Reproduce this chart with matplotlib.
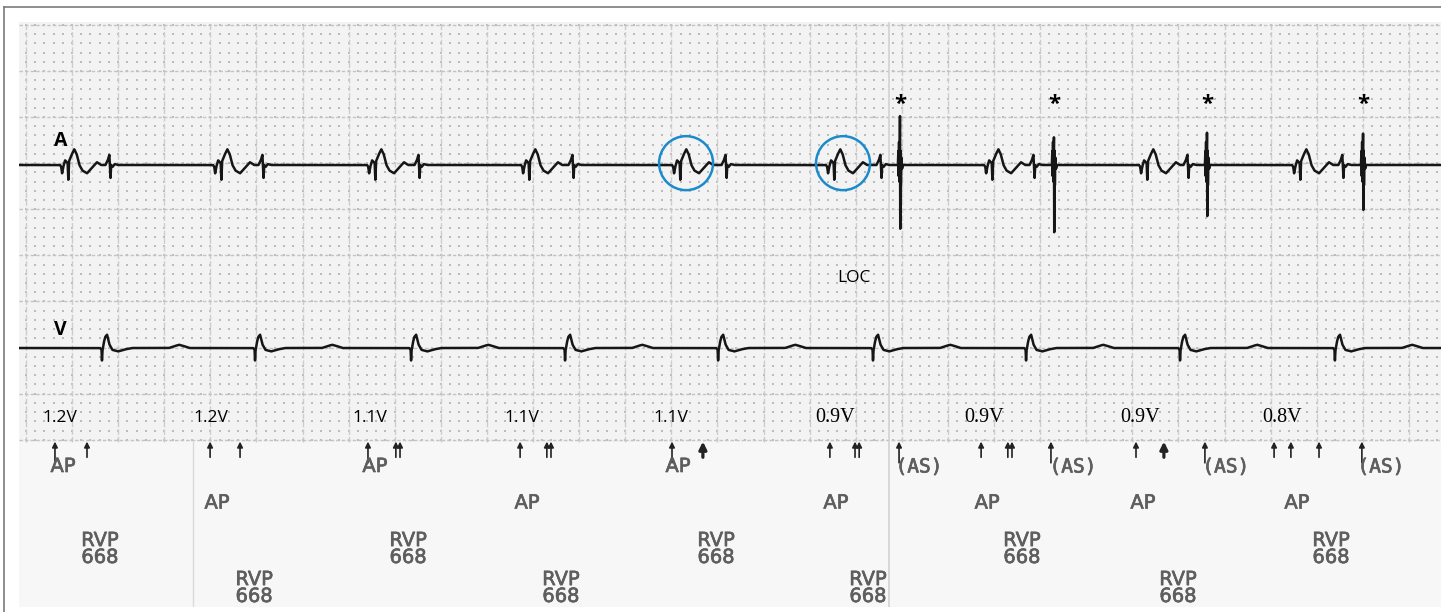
import numpy as np
import matplotlib
matplotlib.use("Agg")
import matplotlib.pyplot as plt
import matplotlib.patheffects as pe
from matplotlib.patches import Ellipse, Rectangle
from matplotlib.lines import Line2D

# =====================================================
# DATOS  (tiempo en ms, amplitud en mV)
# =====================================================

# inicio de cada complejo auricular estimulado (AP)
A_PACE_T = [178, 842, 1510, 2178, 2833, 3501, 4187, 4859, 5523]
# espiga del QRS ventricular
V_QRS_T = [360, 1024, 1701, 2369, 3033, 3705, 4369, 5037, 5709]
# espigas auriculares detectadas (AS), marcadas con *
AS_T = [3822, 4490, 5154, 5831]
AS_TOP = [0.53, 0.30, 0.35, 0.34]
AS_BOT = [-0.74, -0.77, -0.59, -0.52]

# forma del complejo auricular estimulado (relativo al inicio)
AP_TX = [0, 5, 9, 14, 22, 33, 36, 39, 50, 62, 72, 84, 97, 117, 139, 160, 178, 195]
AP_TY = [0, -0.02, -0.09, -0.02, 0.05, 0.02, -0.16, 0.04, 0.11, 0.17, 0.12, 0.0,
         -0.06, -0.09, -0.03, 0.03, 0.0, 0]
# campo lejano ventricular en el canal A (relativo al QRS)
FF_TX = [15, 25, 32, 37, 40, 46, 55, 70]
FF_TY = [0, 0.05, 0.11, -0.14, 0.0, -0.02, 0.01, 0]
# QRS + onda T en el canal V (relativo a la espiga)
QRS_TX = [-8, -2, 0, 2, 8, 14, 22, 32, 45, 70, 100, 130, 290, 320, 335, 350, 380]
QRS_TY = [0, -0.02, -0.135, -0.03, 0.06, 0.12, 0.144, 0.04, -0.02, -0.037, -0.015, 0,
          0, 0.025, 0.035, 0.025, 0]
# espiga AS (TOP / BOT se sustituyen por latido)
AS_TX = [-9, -7, -5.5, -4, -2.5, -1, 0, 1.3, 2.6, 4, 6, 9, 13]
AS_TY = [0, 0.15, -0.12, 0.25, -0.18, 0.1, None, None, 0.2, -0.22, 0.08, -0.04, 0]

# canal de marcas
MARK_T = [156, 295, 829, 959, 1514, 1644, 2174, 2299, 2833, 2967, 3518, 3636, 3818,
          4174, 4299, 4477, 4846, 4967, 5145, 5445, 5518, 5640, 5826]
MARK_KIND = ["ap", "s", "s", "s", "ap", "d", "s", "d", "ap", "b", "s", "d", "as",
             "s", "d", "as", "s", "b", "as", "s", "s", "s", "as"]

VOLT_T = [100, 755, 1445, 2108, 2751, 3453, 4100, 4777, 5393]
VOLT_LABELS = ["1.2V", "1.2V", "1.1V", "1.1V", "1.1V", "0.9V", "0.9V", "0.9V", "0.8V"]

AP_HIGH_T = [191, 1544, 2859]
AP_LOW_T = [859, 2204, 3544, 4200, 4876, 5544]
AS_LABEL_T = [3905, 4573, 5236, 5909]
RVP_HIGH_T = [351, 1688, 3024, 4351, 5692]
RVP_LOW_T = [1020, 2351, 3683, 5028]

CIRCLE_T = [2894, 3575]

# =====================================================
# CONFIG GENERAL
# =====================================================

W, H = 1441, 612
PX_PER_MS = 0.2305
PX_PER_MV = 92.2
T_MAX = (W - 19) / PX_PER_MS
Y_TOP = (165 - 22) / PX_PER_MV
Y_BOT = (165 - 607) / PX_PER_MV
GRID_BOT = -3.0
V_OFFSET = -1.985

TRACE_COLOR = "#161616"
PRINT_COLOR = "#5e5e5e"
PRINT_FONT = dict(fontsize=14, family=["DejaVu Sans"], color=PRINT_COLOR,
                  ha="center", va="center", zorder=5,
                  path_effects=[pe.withStroke(linewidth=0.5, foreground=PRINT_COLOR)])

plt.rcParams["font.family"] = ["Open Sans", "DejaVu Sans"]

fig = plt.figure(figsize=(W / 100, H / 100), dpi=100)
fig.patch.set_facecolor("white")

# marco exterior
fig.add_artist(Line2D([4 / W, 4 / W], [0, 1 - 7 / H], color="#7a7a7a", lw=1.2))
fig.add_artist(Line2D([4 / W, 1], [1 - 7 / H, 1 - 7 / H], color="#7a7a7a", lw=1.2))

ax = fig.add_axes([19 / W, 5 / H, (W - 19) / W, 585 / H])
ax.set_xlim(0, T_MAX)
ax.set_ylim(Y_BOT, Y_TOP)
ax.axis("off")

# =====================================================
# PAPEL Y CUADRICULA
# =====================================================

ax.add_patch(Rectangle((0, GRID_BOT), T_MAX, Y_TOP - GRID_BOT, color="#f3f3f3", zorder=0))
ax.add_patch(Rectangle((0, Y_BOT), T_MAX, GRID_BOT - Y_BOT, color="#f7f7f7", zorder=0))

minor_t = np.arange(30, T_MAX, 40)
minor_v = np.concatenate([np.arange(0.02, GRID_BOT, -0.1)[::-1],
                          np.arange(0.12, Y_TOP, 0.1)])
mt, mv = np.meshgrid(minor_t, minor_v)
ax.scatter(mt.ravel(), mv.ravel(), s=1.2, marker="s", color="#bcbcbc", lw=0, zorder=1)

for tx in np.arange(30, T_MAX, 200):
    ax.plot([tx, tx], [GRID_BOT, Y_TOP], color="#cdcdcd", lw=1.0, ls=(0, (4, 1.5)),
            zorder=1)
for vy in np.arange(0.02 - 6 * 0.5, Y_TOP, 0.5):
    ax.plot([0, T_MAX], [vy, vy], color="#c4c4c4", lw=1.0, ls=(0, (2.5, 1.5)), zorder=1)

# uniones de tiras de papel
ax.plot([755, 755], [Y_BOT, GRID_BOT], color="#dadada", lw=1.0, zorder=1)
ax.plot([3774, 3774], [Y_BOT, Y_TOP], color="#d2d2d2", lw=1.2, zorder=1)

# =====================================================
# TRAZOS
# =====================================================

t = np.arange(0, T_MAX, 0.25)


def stamp(times, tx, ty):
    out = np.zeros_like(t)
    for t0 in times:
        out += np.interp(t - t0, tx, ty, left=0, right=0)
    return out


a_trace = stamp(A_PACE_T, AP_TX, AP_TY) + stamp(V_QRS_T, FF_TX, FF_TY)
for t0, top, bot in zip(AS_T, AS_TOP, AS_BOT):
    ty = [top if i == 6 else bot if i == 7 else v for i, v in enumerate(AS_TY)]
    a_trace += stamp([t0], AS_TX, ty)

v_trace = V_OFFSET + stamp(V_QRS_T, QRS_TX, QRS_TY)

ax.plot(t, a_trace, color=TRACE_COLOR, lw=1.8, zorder=3)
ax.plot(t, v_trace, color=TRACE_COLOR, lw=1.8, zorder=3)

# etiquetas de canal
ax.text(180, 0.26, "A", fontsize=14, fontweight="bold", ha="center", va="center", zorder=5)
ax.text(180, -1.79, "V", fontsize=14, fontweight="bold", ha="center", va="center", zorder=5)

for t0 in AS_T:
    ax.text(t0, 0.60, "*", fontsize=16, fontweight="bold", ha="center", va="baseline",
            zorder=5)

for tc in CIRCLE_T:
    ax.add_patch(Ellipse((tc, 0.02), 54 / PX_PER_MS, 54 / PX_PER_MV, fill=False,
                         edgecolor="#1b8bcc", lw=1.8, zorder=4))

ax.text(3623, -1.226, "LOC", fontsize=12.5, ha="center", va="center", zorder=5)

# =====================================================
# CANAL DE MARCAS
# =====================================================

for tv, lab in zip(VOLT_T, VOLT_LABELS):
    if lab.startswith("1"):
        ax.text(tv, -2.744, lab, fontsize=12.5, family=["Open Sans"], ha="left",
                va="center", zorder=5)
    else:
        ax.text(tv, -2.744, lab, fontsize=14.5, family=["Liberation Serif"], ha="left",
                va="center", zorder=5)

ARROW_TIP = -3.0
for tm, kind in zip(MARK_T, MARK_KIND):
    base = -3.23 if kind in ("ap", "as") else -3.17
    lw, ms = (2.3, 11) if kind == "b" else (1.2, 8)
    offs = [-9, 9] if kind == "d" else [0]
    for o in offs:
        ax.annotate("", xy=(tm + o, ARROW_TIP), xytext=(tm + o, base),
                    arrowprops=dict(arrowstyle="-|>", color="#222222", lw=lw,
                                    mutation_scale=ms, shrinkA=0, shrinkB=0),
                    zorder=5)

for tx in AP_HIGH_T:
    ax.text(tx, -3.27, "AP", **PRINT_FONT)
for tx in AP_LOW_T:
    ax.text(tx, -3.666, "AP", **PRINT_FONT)
for tx in AS_LABEL_T:
    ax.text(tx, -3.275, "(AS)", **dict(PRINT_FONT, family=["DejaVu Sans Mono"]))
for tx in RVP_HIGH_T:
    ax.text(tx, -4.165, "RVP\n668", linespacing=0.86, **PRINT_FONT)
for tx in RVP_LOW_T:
    ax.text(tx, -4.588, "RVP\n668", linespacing=0.86, **PRINT_FONT)

plt.savefig("out.png", dpi=100, facecolor=fig.get_facecolor())
plt.close()
